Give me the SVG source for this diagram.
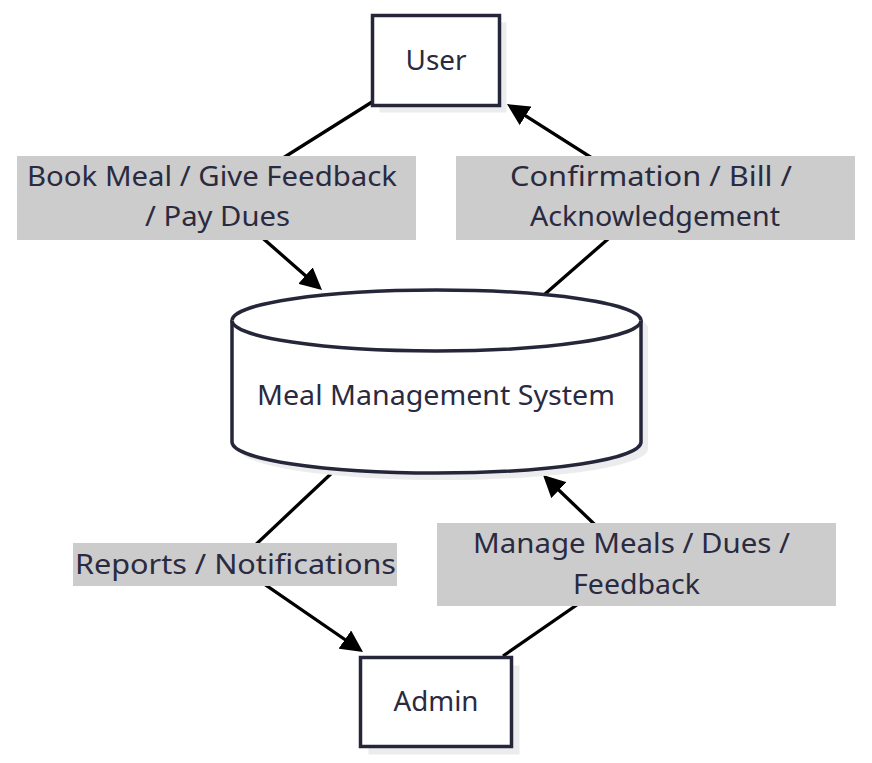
<svg xmlns="http://www.w3.org/2000/svg" width="872" height="763" viewBox="0 0 872 763">
<style>
.node{fill:#ffffff;stroke:#26263a;stroke-width:3.5}
.shadow{fill:#ececef;stroke:none}
.edge{fill:none;stroke:#000000;stroke-width:3.3;stroke-linejoin:round}
.lblbg{fill:#cccccc}
.t{font-family:"Noto Sans","DejaVu Sans",sans-serif;font-size:27px;fill:#2a2a40;text-anchor:middle}
</style>
<defs>
<marker id="arrow" viewBox="0 0 10 10" refX="8" refY="5" markerWidth="22" markerHeight="22" markerUnits="userSpaceOnUse" orient="auto">
<path d="M0,0 L10,5 L0,10 z" fill="#000000"/>
</marker>
</defs>
<rect width="872" height="763" fill="#ffffff"/>
<g id="connectors">
<path class="edge" d="M372,102 L218,199 L318.7,287.2" marker-end="url(#arrow)"/>
<path class="edge" d="M545,294 L655,198 L510.7,106.4" marker-end="url(#arrow)"/>
<path class="edge" d="M335,470 L235,564 L359.4,649.5" marker-end="url(#arrow)"/>
<path class="edge" d="M503,656 L636,564 L546.2,478" marker-end="url(#arrow)"/>
</g>
<g id="labels">
<g id="label-book">
<rect class="lblbg" x="17" y="156" width="399" height="84"/>
<text class="t" x="212" y="186" textLength="370" lengthAdjust="spacingAndGlyphs">Book Meal / Give Feedback</text>
<text class="t" x="217.5" y="226" textLength="145" lengthAdjust="spacingAndGlyphs">/ Pay Dues</text>
</g>
<g id="label-confirm">
<rect class="lblbg" x="456" y="156" width="399" height="84"/>
<text class="t" x="651" y="186" textLength="282" lengthAdjust="spacingAndGlyphs">Confirmation / Bill /</text>
<text class="t" x="655" y="226" textLength="250" lengthAdjust="spacingAndGlyphs">Acknowledgement</text>
</g>
<g id="label-reports">
<rect class="lblbg" x="73" y="543" width="324" height="43"/>
<text class="t" x="235.5" y="574" textLength="321" lengthAdjust="spacingAndGlyphs">Reports / Notifications</text>
</g>
<g id="label-manage">
<rect class="lblbg" x="437" y="523" width="399" height="83"/>
<text class="t" x="631.5" y="553" textLength="317" lengthAdjust="spacingAndGlyphs">Manage Meals / Dues /</text>
<text class="t" x="636.5" y="594" textLength="127" lengthAdjust="spacingAndGlyphs">Feedback</text>
</g>
</g>
<g id="node-user">
<rect class="shadow" x="379.5" y="22.5" width="127" height="90"/>
<rect class="node" x="372.5" y="15.5" width="127" height="90"/>
<text class="t" x="436" y="70" textLength="61" lengthAdjust="spacingAndGlyphs">User</text>
</g>
<g id="node-system">
<path class="shadow" d="M239,328 A204.5,30.5 0 0,1 648,328 L648,449 A204.5,31 0 0,1 239,449 Z"/>
<path class="node" d="M232,320.5 A204.5,30.5 0 0,1 641,320.5 L641,442 A204.5,31 0 0,1 232,442 Z" stroke-width="3"/>
<path class="node" d="M232,320.5 A204.5,30.5 0 0,0 641,320.5" fill="none" stroke-width="3"/>
<text class="t" x="436" y="405" textLength="358" lengthAdjust="spacingAndGlyphs">Meal Management System</text>
</g>
<g id="node-admin">
<rect class="shadow" x="368.5" y="665.5" width="151" height="89"/>
<rect class="node" x="360.5" y="657.5" width="151" height="89"/>
<text class="t" x="436" y="711" textLength="85" lengthAdjust="spacingAndGlyphs">Admin</text>
</g>
</svg>
